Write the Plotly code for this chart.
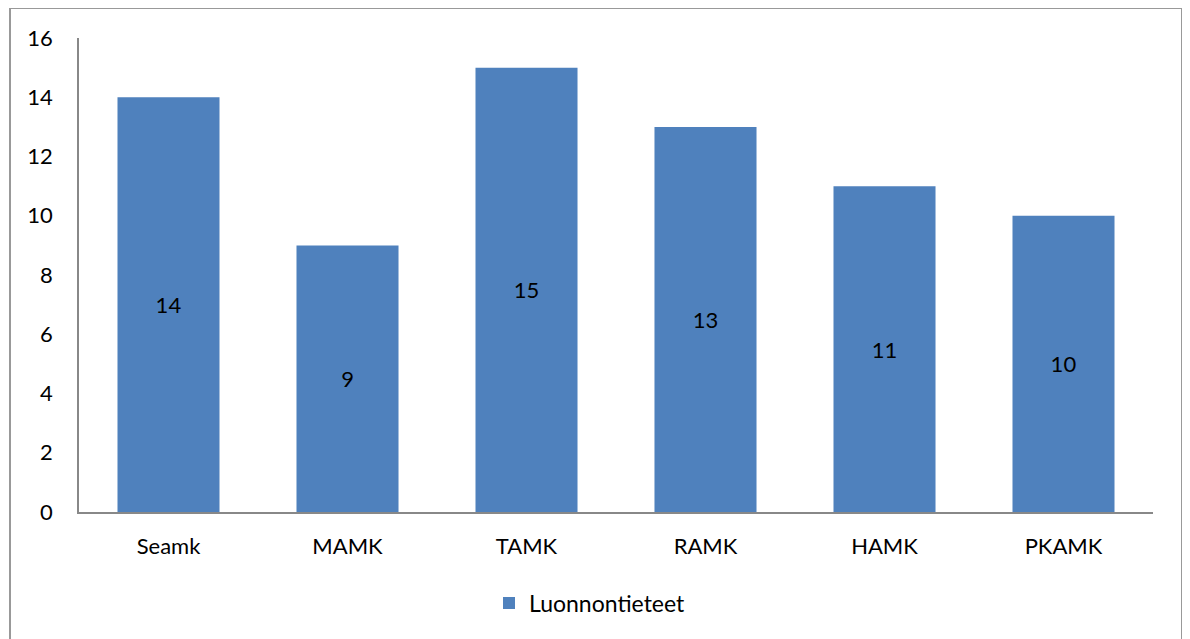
import plotly.graph_objects as go

categories = ["Seamk", "MAMK", "TAMK", "RAMK", "HAMK", "PKAMK"]
values = [14, 9, 15, 13, 11, 10]
series_name = "Luonnontieteet"
y_ticks = [0, 2, 4, 6, 8, 10, 12, 14, 16]

OFF = 8  # page body margin
W, H = 1190 - OFF, 639 - OFF
# target screen positions of plot area
sx0, sx1, sy0, sy1 = 79, 1153, 38, 512
L, R, T, B = sx0 - OFF, W - (sx1 - OFF), sy0 - OFF, H - (sy1 - OFF)
pw, ph = W - L - R, H - T - B

def px_x(x):
    return (x - OFF - L) / pw

def px_y(y):
    return (H - B - (y - OFF)) / ph

FONT = "Lato"
FS = 22

fig = go.Figure()
fig.add_trace(go.Bar(
    x=categories, y=values, name=series_name,
    marker=dict(color="#4F81BD", line=dict(width=0)),
    width=0.57,
    text=[str(v) for v in values],
    textposition="inside", insidetextanchor="middle",
    textfont=dict(color="black", size=FS, family=FONT),
    showlegend=True,
))

fig.update_layout(
    width=W, height=H,
    margin=dict(l=L, r=R, t=T, b=B),
    paper_bgcolor="white", plot_bgcolor="white",
    font=dict(family=FONT, size=FS, color="black"),
    xaxis=dict(showline=True, linecolor="#888888", linewidth=1.5, ticks="",
               showgrid=False, tickfont=dict(size=FS), ticklabelstandoff=14),
    yaxis=dict(range=[0, 16], tickvals=y_ticks, showline=True, linecolor="#888888",
               linewidth=1.5, ticks="", showgrid=False, zeroline=False,
               tickfont=dict(size=FS), ticklabelstandoff=20),
    legend=dict(orientation="h", x=px_x(590), xanchor="center", y=px_y(603), yanchor="middle",
                font=dict(size=23), itemwidth=30),
    shapes=[dict(type="rect", xref="paper", yref="paper",
                 x0=px_x(10), x1=px_x(1182), y0=px_y(700), y1=px_y(8),
                 line=dict(color="#999999", width=2), fillcolor="rgba(0,0,0,0)")],
)

fig.write_html("out.html")
